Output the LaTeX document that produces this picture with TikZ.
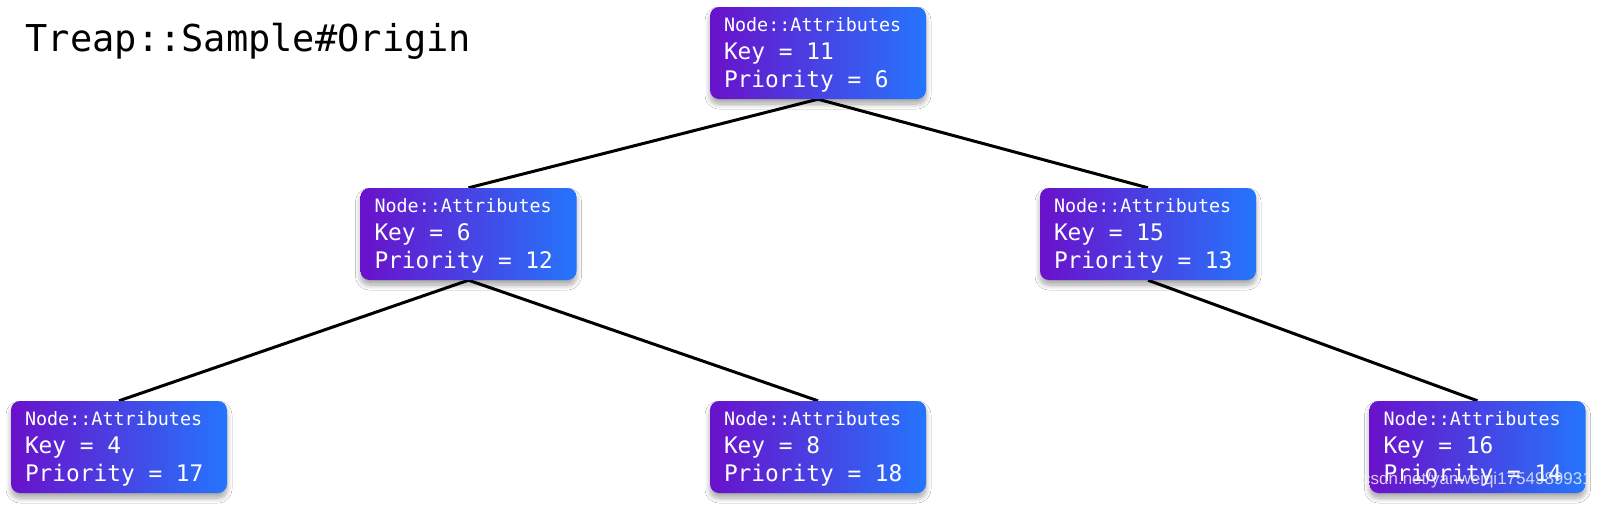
\documentclass[tikz,border=0pt]{standalone}
\usepackage{fontspec}
\setmonofont{DejaVu Sans Mono}
\setsansfont{Liberation Sans}
\newfontfamily\boxfont{DejaVu Sans Mono}
\usetikzlibrary{shadows.blur,backgrounds}
\definecolor{attrpurple}{HTML}{6A11CB}
\definecolor{attrblue}{HTML}{2575FC}
\tikzset{
  attrbox/.style={rounded corners=9pt, left color=attrpurple, right color=attrblue,
    text=white, text width=188pt, inner xsep=14pt, inner ysep=2pt, minimum height=92pt, align=left,
    font=\boxfont\fontsize{22.8}{28}\selectfont,
    blur shadow={shadow xshift=0pt, shadow yshift=-5pt, shadow opacity=35, shadow blur radius=5pt, shadow blur steps=8}},
  link/.style={line width=3pt, black}
}
\newcommand{\gap}{\hspace*{0.602em}}
\newcommand{\attrlines}[2]{%
  \rule{0pt}{19pt}{\fontsize{18.4}{28}\selectfont Node::Attributes}\\%
  Key\gap=\gap#1\\%
  Priority\gap=\gap#2\rule[-6pt]{0pt}{6pt}}
\begin{document}
\begin{tikzpicture}[x=1pt,y=-1pt]
    \useasboundingbox (0,0) rectangle (1597,507);
    \node[anchor=base west, inner sep=0, font=\ttfamily\fontsize{37}{40}\selectfont] (title) at (25.5,51) {Treap::Sample\#Origin};
    % tree
    \node[attrbox] (root) at (818,53) {\attrlines{11}{6}};
    \node[attrbox] (lchild) at (468.5,234) {\attrlines{6}{12}};
    \node[attrbox] (rchild) at (1148,234) {\attrlines{15}{13}};
    \node[attrbox] (ll) at (119,447) {\attrlines{4}{17}};
    \node[attrbox] (lr) at (818,447) {\attrlines{8}{18}};
    \node[attrbox] (rr) at (1477.5,447) {\attrlines{16}{14}};
    \begin{scope}[on background layer]
    \fill[white] (0,0) rectangle (1597,507);
    \draw[link] (root.south) -- (lchild.north);
    \draw[link] (root.south) -- (rchild.north);
    \draw[link] (lchild.south) -- (ll.north);
    \draw[link] (lchild.south) -- (lr.north);
    \draw[link] (rchild.south) -- (rr.north);
    \end{scope}
    \node[anchor=base east, inner sep=0, text=white!85!gray, opacity=0.85, font=\sffamily\fontsize{17}{17}\selectfont] (mark) at (1592,484) {csdn.net/yanweiqi1754989931};
\end{tikzpicture}
\end{document}
